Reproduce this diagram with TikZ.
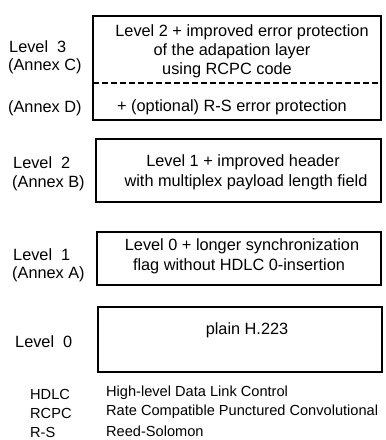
\documentclass[tikz,border=0pt]{standalone}
\usepackage{fontspec}
\setmainfont{Liberation Sans}
\begin{document}
\begin{tikzpicture}[x=1pt,y=-1pt,
  box/.style={draw, line width=1.3pt, inner sep=0pt},
  txt/.style={inner sep=0pt, font=\fontsize{16.3}{19}\selectfont},
  lbl/.style={txt, anchor=west},
  key/.style={inner sep=0pt, anchor=west, font=\fontsize{14.6}{18}\selectfont},
  sep/.style={line width=1.1pt, dash pattern=on 5.5pt off 3.5pt}]
\useasboundingbox (0,0) rectangle (386,440);

% level boxes
\node[box, minimum width=288pt, minimum height=104pt] (b3) at (237,68) {};
\node[box, minimum width=285pt, minimum height=63pt] (b2) at (238.5,170.5) {};
\node[box, minimum width=284pt, minimum height=53pt] (b1) at (239,258.5) {};
\node[box, minimum width=284pt, minimum height=65pt] (b0) at (240,339.5) {};

% split of level 3 into annex C and annex D parts
\coordinate (dl) at (93,83);
\coordinate (dr) at (381,83);
\draw[sep] (dl) -- (dr);

% box contents
\node[txt] (t3a) at (242,32) {Level 2 + improved error protection};
\node[txt] (t3b) at (232,51) {of the adapation layer};
\node[txt] (t3c) at (227,70) {using RCPC code};
\node[txt] (t3d) at (232,107) {+ (optional) R-S error protection};
\node[txt] (t2a) at (243,162) {Level 1 + improved header};
\node[txt] (t2b) at (246,182) {with multiplex payload length field};
\node[txt] (t1a) at (242,246) {Level 0 + longer synchronization};
\node[txt] (t1b) at (239,266) {flag without HDLC 0-insertion};
\node[txt] (t0a) at (247,330) {plain H.223};

% level labels
\node[lbl] (l3) at (9,47) {Level~ 3};
\node[lbl] (l3c) at (8,66) {(Annex C)};
\node[lbl] (l3d) at (8,108) {(Annex D)};
\node[lbl] (l2) at (13,163) {Level~ 2};
\node[lbl] (l2b) at (12,183) {(Annex B)};
\node[lbl] (l1) at (13,255) {Level~ 1};
\node[lbl] (l1a) at (12,274) {(Annex A)};
\node[lbl] (l0) at (15,342) {Level~ 0};

% abbreviations
\node[key] (k1) at (30,394) {HDLC};
\node[key] (k2) at (30,413) {RCPC};
\node[key] (k3) at (30,432) {R-S};
\node[key] (d1) at (106,393) {High-level Data Link Control};
\node[key] (d2) at (106,412) {Rate Compatible Punctured Convolutional};
\node[key] (d3) at (106,431) {Reed-Solomon};
\end{tikzpicture}
\end{document}
